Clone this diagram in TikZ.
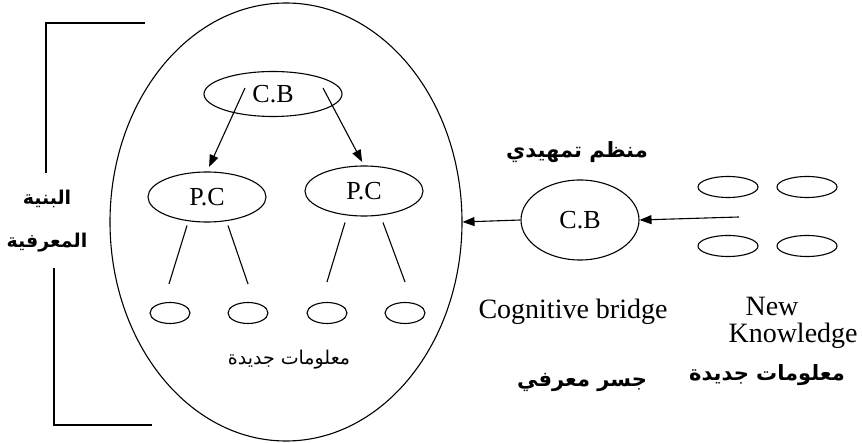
\documentclass[tikz,border=0pt]{standalone}
\usepackage{fontspec}
\setmainfont{Liberation Serif}
\newfontfamily\arabicfont[Script=Arabic]{DejaVu Sans}
\TeXXeTstate=1
\usepackage{tikz}
\usetikzlibrary{arrows.meta,positioning,shapes.geometric}
\definecolor{ink}{HTML}{000000}

\begin{document}
\begin{tikzpicture}[x=1pt,y=-1pt,line width=1.1pt,draw=ink,
  oval/.style={draw,ellipse,inner sep=0pt},
  bubble/.style={oval,minimum width=#1*2pt},
  lat/.style={font=\fontsize{26}{28}\selectfont},
  eng/.style={font=\fontsize{28}{27}\selectfont,inner sep=0pt},
  arb/.style={font=\arabicfont\bfseries\fontsize{21}{40}\selectfont,align=center,inner sep=0pt},
  arbthin/.style={font=\arabicfont\fontsize{19}{24}\selectfont,inner sep=0pt},
  tip/.style={-{Triangle[length=12pt,width=9pt]}}]
\useasboundingbox (0,0) rectangle (863,443);

% cognitive structure
\node[oval,minimum width=352pt,minimum height=438pt] (struct) at (286,222) {};
\node[oval,lat,minimum width=138pt,minimum height=45pt] (cbtop) at (273,94) {C.B};
\node[oval,lat,minimum width=118pt,minimum height=50pt] (pcl) at (207,197) {P.C};
\node[oval,lat,minimum width=118pt,minimum height=50pt] (pcr) at (364,191) {P.C};
\foreach \i/\x in {1/170,2/248,3/327,4/405}
  \node[oval,minimum width=40pt,minimum height=21pt] (k\i) at (\x,313) {};
\node[arbthin] (newin) at (289,360) {\beginR معلومات جديدة\endR};

\coordinate (al) at (245,88);
\coordinate (ar) at (323,88);
\draw[tip,shorten >=5pt] (al) -- (pcl.north);
\draw[tip,shorten >=4pt] (ar) -- (pcr.north);

\draw ([shift={(-20,3)}]pcl.south) -- ([shift={(-1,-18)}]k1.north);
\draw ([shift={(21,3)}]pcl.south) -- ([shift={(0,-18)}]k2.north);
\draw ([shift={(-19,6)}]pcr.south) -- ([shift={(0,-20)}]k3.north);
\draw ([shift={(19,6)}]pcr.south) -- ([shift={(0,-20)}]k4.north);

% bracket
\node[arb,font=\arabicfont\bfseries\fontsize{19}{43}\selectfont] (bunya) at (47,221)
  {\beginR البنية\endR\\\beginR المعرفية\endR};
\draw (145,23) -- (46,23) -- (46,173);
\draw (54,268) -- (54,425) -- (152,425);

% bridge
\node[oval,lat,minimum width=118pt,minimum height=80pt] (cbr) at (580,220) {C.B};
\node[arb] (organiser) at (577,152) {\beginR منظم تمهيدي\endR};
\node[eng] (bridge) at (573,312) {Cognitive bridge};
\node[arb] (jisr) at (582,382) {\beginR جسر معرفي\endR};
\draw[tip] (cbr.west) -- (struct.east);

% new knowledge
\node[bubble=30,minimum height=21pt] (n1) at (728,187) {};
\node[bubble=30,minimum height=21pt] (n2) at (807,187) {};
\node[bubble=30,minimum height=21pt] (n3) at (728,246) {};
\node[bubble=30,minimum height=21pt] (n4) at (807,246) {};
\coordinate (nk) at (739,217);
\draw[tip] (nk) -- (cbr.east);
\node[eng,align=left,anchor=west] (newk) at (728,323) {\hspace*{17pt}New\\Knowledge};
\node[arb] (newout) at (767,375) {\beginR معلومات جديدة\endR};
\end{tikzpicture}
\end{document}
